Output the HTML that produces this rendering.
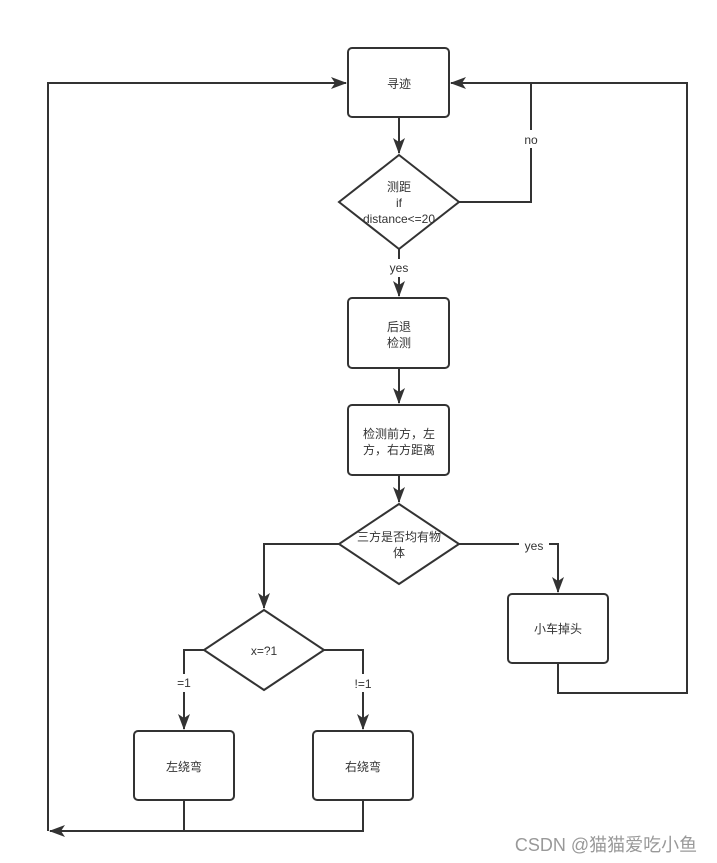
<!DOCTYPE html>
<html><head><meta charset="utf-8"><style>
html,body{margin:0;padding:0;background:#fff;}
svg{display:block;}
text{font-family:"Liberation Sans","Noto Sans CJK SC",sans-serif;font-size:12px;fill:#333;text-anchor:middle;}
</style></head><body>
<svg width="717" height="863" viewBox="0 0 717 863" xmlns="http://www.w3.org/2000/svg">
<defs><marker id="a" markerWidth="10" markerHeight="10" refX="9" refY="5" orient="auto" markerUnits="userSpaceOnUse"><path d="M0,0 L10,5 L0,10 L3,5 Z" fill="#333"/></marker>
<marker id="b" markerWidth="16" markerHeight="12" refX="15" refY="6" orient="auto" markerUnits="userSpaceOnUse"><path d="M0,0 L16,6 L0,12 L4,6 Z" fill="#333"/></marker></defs>
<g fill="none" stroke="#333" stroke-width="2">
<rect x="348" y="48" width="101" height="69" rx="4"/>
<polygon points="399,155 459,202 399,249 339,202"/>
<rect x="348" y="298" width="101" height="70" rx="4"/>
<rect x="348" y="405" width="101" height="70" rx="4"/>
<polygon points="399,504 459,544 399,584 339,544"/>
<rect x="508" y="594" width="100" height="69" rx="4"/>
<polygon points="264,610 324,650 264,690 204,650"/>
<rect x="134" y="731" width="100" height="69" rx="4"/>
<rect x="313" y="731" width="100" height="69" rx="4"/>
<path d="M399,117 V153" marker-end="url(#b)"/>
<path d="M399,249 V296" marker-end="url(#b)"/>
<path d="M399,368 V403" marker-end="url(#b)"/>
<path d="M399,475 V502" marker-end="url(#b)"/>
<path d="M459,202 H531 V83 H451" marker-end="url(#b)"/>
<path d="M459,544 H558 V592" marker-end="url(#b)"/>
<path d="M339,544 H264 V608" marker-end="url(#b)"/>
<path d="M204,650 H184 V729" marker-end="url(#b)"/>
<path d="M324,650 H363 V729" marker-end="url(#b)"/>
<path d="M558,663 V693 H687 V83 H451"/>
<path d="M184,800 V831"/>
<path d="M363,800 V831 H50" marker-end="url(#b)"/>
<path d="M48,831 V83 H346" marker-end="url(#b)"/>
</g>
<g>
<rect x="516" y="130" width="30" height="18" fill="#fff"/>
<rect x="385" y="259" width="28" height="18" fill="#fff"/>
<rect x="519" y="536" width="30" height="18" fill="#fff"/>
<rect x="172" y="674" width="24" height="18" fill="#fff"/>
<rect x="348" y="674" width="30" height="18" fill="#fff"/>
</g>
<text x="399" y="88">寻迹</text>
<text x="399" y="191">测距</text>
<text x="399" y="207">if</text>
<text x="399" y="223">distance&lt;=20</text>
<text x="531" y="144">no</text>
<text x="399" y="272">yes</text>
<text x="399" y="331">后退</text>
<text x="399" y="347">检测</text>
<text x="399" y="438">检测前方，左</text>
<text x="399" y="454">方，右方距离</text>
<text x="399" y="541">三方是否均有物</text>
<text x="399" y="557">体</text>
<text x="534" y="550">yes</text>
<text x="558" y="633">小车掉头</text>
<text x="264" y="655">x=?1</text>
<text x="184" y="687">=1</text>
<text x="363" y="688">!=1</text>
<text x="184" y="771">左绕弯</text>
<text x="363" y="771">右绕弯</text>
<text x="606" y="851" style="font-size:18px;fill:#999;">CSDN @猫猫爱吃小鱼</text>
</svg>
</body></html>
